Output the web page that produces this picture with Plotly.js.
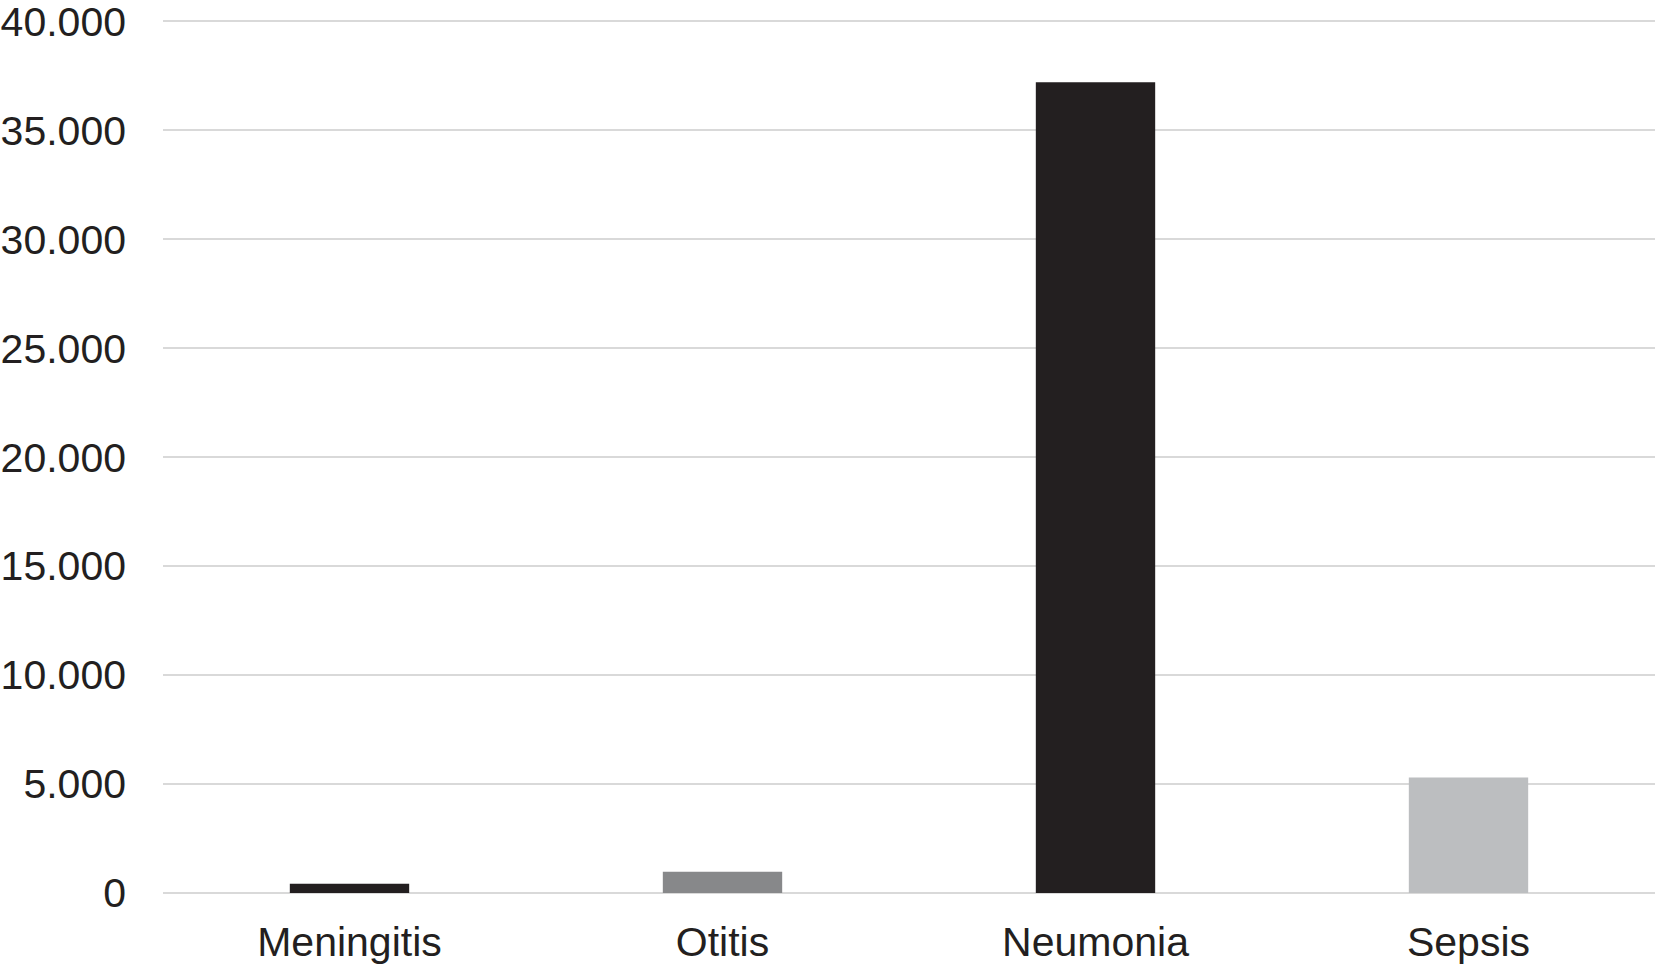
<!DOCTYPE html>
<html>
<head>
<meta charset="utf-8">
<script src="https://cdn.plot.ly/plotly-3.0.1.min.js"></script>
<style>
  html, body { margin: 0; padding: 0; background: #fff; }
  #plot { width: 1662px; height: 977px; }
</style>
</head>
<body>
<div id="plot"></div>
<script>
// categories and values
var categories = ["Meningitis", "Otitis", "Neumonia", "Sepsis"];
var cases = [420, 980, 37200, 5300];
var barColors = ["#231f20", "#87888a", "#231f20", "#bcbec0"];
var yTicks = [0, 5000, 10000, 15000, 20000, 25000, 30000, 35000, 40000];
var yTickText = ["0", "5.000", "10.000", "15.000", "20.000", "25.000", "30.000", "35.000", "40.000"];

var trace1 = {
  x: categories,
  y: cases,
  type: "bar",
  marker: { color: barColors, line: { width: 0 } },
  hoverinfo: "x+y"
};

var data = [trace1];

var layout = {
  width: 1662,
  height: 977,
  margin: { l: 163, r: 7, t: 17, b: 84 },
  paper_bgcolor: "#ffffff",
  plot_bgcolor: "#ffffff",
  bargap: 0.68,
  showlegend: false,
  font: { family: "Liberation Sans, Arial, sans-serif", size: 41, color: "#231f20" },
  xaxis: {
    type: "category",
    showgrid: false,
    showline: false,
    zeroline: false,
    ticks: "",
    ticklabelstandoff: 21
  },
  yaxis: {
    // a little headroom so the 40.000 line is kept
    range: [0, 40200],
    tickvals: yTicks,
    ticktext: yTickText,
    ticklabeloverflow: "allow",
    showgrid: true,
    gridcolor: "#d9d9d9",
    gridwidth: 2,
    zeroline: true,
    zerolinecolor: "#d9d9d9",
    zerolinewidth: 2,
    showline: false,
    ticks: "",
    ticklabelstandoff: 36
  }
};

Plotly.newPlot("plot", data, layout, { displayModeBar: false });
</script>
</body>
</html>
